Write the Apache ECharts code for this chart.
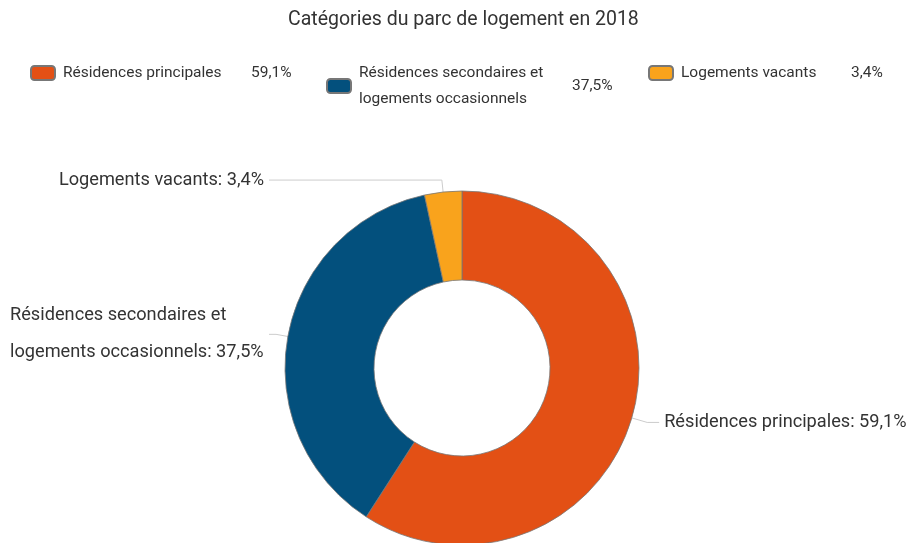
<!DOCTYPE html>
<html>
<head>
<meta charset="utf-8">
<script src="https://cdn.jsdelivr.net/npm/echarts@6/dist/echarts.min.js"></script>
<style>
  html, body { margin: 0; padding: 0; background: #fff; }
  #chart { width: 908px; height: 543px; }
</style>
</head>
<body>
<div id="chart"></div>
<script>
const titre = 'Catégories du parc de logement en 2018'
const categories = ['Résidences principales', 'Résidences secondaires et logements occasionnels', 'Logements vacants']
const valeurs = [59.1, 37.5, 3.4]
const couleurs = ['#e35015', '#03507d', '#f9a31c']

// nombre à la française : 59,1%
const pct = v => String(v).replace('.', ',') + '%'
// coupure de ligne pour le libellé long
const coupe = n => n.replace('secondaires et ', 'secondaires et\n')

const font = 'Roboto'
const tailleEtiquette = 18.2

// largeur du texte, pour garder les lignes alignées à gauche dans l'étiquette
const ctx = document.createElement('canvas').getContext('2d')
const mesure = t => {
  ctx.font = tailleEtiquette + 'px ' + font
  return Math.ceil(ctx.measureText(t).width)
}
const etiquette = i => coupe(categories[i]) + ': ' + pct(valeurs[i])
const largeurBloc = Math.max.apply(null, etiquette(1).split('\n').map(mesure))

const dom = document.getElementById('chart')
const myChart = echarts.init(dom)

const legende = (i, left, top, largeur) => ({
  data: [categories[i]],
  left: left,
  top: top,
  icon: 'roundRect',
  itemWidth: 24,
  itemHeight: 14,
  selectedMode: false,
  formatter: function (name) {
    if (i === 1) return '{n|' + coupe(name) + '}'
    return '{n|' + name + '}{v|' + pct(valeurs[i]) + '}'
  },
  textStyle: {
    fontFamily: font,
    fontSize: 15.5,
    color: '#333',
    lineHeight: 26,
    rich: {
      n: { width: largeur, padding: [0, 0, 0, 3], fontFamily: font, fontSize: 15.5, color: '#333', lineHeight: 26 },
      v: { fontFamily: font, fontSize: 15.5, color: '#333' }
    }
  }
})

const option = {
  animation: false,
  title: {
    text: titre,
    left: 283,
    top: 5,
    textStyle: { fontFamily: font, fontSize: 19.5, fontWeight: 'normal', color: '#333' }
  },
  legend: [
    legende(0, 25, 55, 188),
    legende(1, 321, 55, 210),
    legende(2, 643, 55, 170)
  ],
  graphic: [{
    type: 'text',
    left: 572,
    top: 78,
    style: { text: pct(valeurs[1]), font: '15.5px ' + font, fill: '#333' }
  }],
  series: [{
    type: 'pie',
    center: [462, 368],
    radius: [88, 177],
    startAngle: 90,
    clockwise: true,
    avoidLabelOverlap: true,
    itemStyle: { borderColor: '#777', borderWidth: 0.8 },
    label: {
      show: true,
      fontFamily: font,
      fontSize: tailleEtiquette,
      color: '#333',
      lineHeight: 37,
      alignTo: 'labelLine',
      edgeDistance: 0,
      bleedMargin: 0,
      overflow: 'none',
      formatter: p => {
        const lignes = etiquette(p.dataIndex).split('\n')
        if (lignes.length === 1) return lignes[0]
        return lignes.map(l => '{g|' + l + '}').join('\n')
      },
      rich: {
        g: { width: largeurBloc, align: 'left', fontFamily: font, fontSize: tailleEtiquette, color: '#333', lineHeight: 37 }
      }
    },
    labelLine: {
      show: true,
      length: 12,
      length2: 7,
      lineStyle: { color: '#ccc', width: 1 }
    },
    emphasis: { disabled: true },
    data: categories.map((c, i) => ({
      name: c,
      value: valeurs[i],
      itemStyle: { color: couleurs[i] },
      // côté droit un peu plus éloigné
      labelLine: i === 0 ? { length: 16, length2: 12 } : undefined
    }))
  }]
}
myChart.setOption(option)
</script>
</body>
</html>
